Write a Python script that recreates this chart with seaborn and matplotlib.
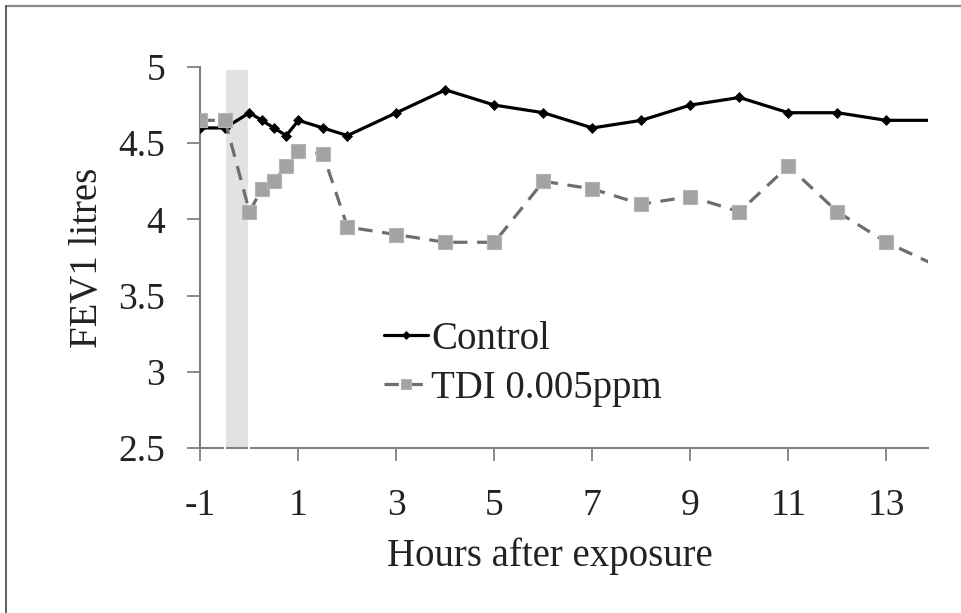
import matplotlib
matplotlib.use("Agg")
import matplotlib.pyplot as plt
from matplotlib.lines import Line2D
import seaborn as sns
import pandas as pd

hours = [-1, -0.5, 0, 0.25, 0.5, 0.75, 1, 1.5, 2, 3, 4, 5, 6, 7, 8, 9, 10, 11, 12, 13, 14]
control = [4.6, 4.6, 4.7, 4.65, 4.6, 4.55, 4.65, 4.6, 4.55, 4.7, 4.85, 4.75, 4.7, 4.6,
           4.65, 4.75, 4.8, 4.7, 4.7, 4.65, 4.65]
tdi = [4.65, 4.65, 4.05, 4.2, 4.25, 4.35, 4.45, 4.43, 3.95, 3.9, 3.85, 3.85, 4.25, 4.2,
       4.1, 4.15, 4.05, 4.35, 4.05, 3.85, 3.7]
series_names = ["Control", "TDI 0.005ppm"]
xticks = [-1, 1, 3, 5, 7, 9, 11, 13]
yticks = [2.5, 3, 3.5, 4, 4.5, 5]
ytick_labels = ["2.5", "3", "3.5", "4", "4.5", "5"]
exposure_start, exposure_end = -0.5, 0

sns.set_style("white")
FONT = ['Liberation Serif', 'DejaVu Serif']
plt.rcParams['font.family'] = 'serif'
plt.rcParams['font.serif'] = FONT

df = pd.DataFrame({"hours": hours, "control": control, "tdi": tdi})
shown = list(range(len(hours) - 1))  # last point lies beyond the visible axis

fig = plt.figure(figsize=(9.62, 6.13), dpi=100)
ax = fig.add_axes([200.5 / 962, 1 - 448 / 613, (928 - 200.5) / 962, (448 - 67) / 613])

# exposure band
ax.axvspan(exposure_start, exposure_end, ymin=0, ymax=(4.98 - 2.5) / 2.5,
           facecolor="#e2e2e2", edgecolor="none", zorder=1)
ax.vlines([exposure_start, exposure_end], 2.47, 4.98, colors="white", lw=1.6,
          zorder=2.6, clip_on=False)

sns.lineplot(data=df, x="hours", y="control", ax=ax, color="black", lw=2.3,
             marker="D", markersize=5.5, markerfacecolor="black",
             markeredgecolor="black", markeredgewidth=0.5, label=series_names[0],
             zorder=3, errorbar=None, markevery=shown)
sns.lineplot(data=df, x="hours", y="tdi", ax=ax, color="#6e6e6e", lw=2.3,
             linestyle="--", marker="s", markersize=10, markerfacecolor="#a3a3a3",
             markeredgecolor="#b5b5b5", markeredgewidth=0.8, label=series_names[1],
             zorder=3, errorbar=None, markevery=shown)
ax.lines[-1].set_dashes([4.5, 3])

ax.set_xlim(-1, 13.85)
ax.set_ylim(2.5, 5)
ax.set_xticks(xticks)
ax.set_xticklabels([str(t) for t in xticks], family=FONT, fontsize=27, color="#222222")
ax.set_yticks(yticks)
ax.set_yticklabels(ytick_labels, family=FONT, fontsize=27, color="#222222")

for side in ["top", "right"]:
    ax.spines[side].set_visible(False)
for side in ["left", "bottom"]:
    ax.spines[side].set_color("#808080")
    ax.spines[side].set_linewidth(1.5)

ax.tick_params(axis="both", direction="out", length=9.5, width=1.3, color="#808080")
ax.tick_params(axis="y", pad=16)
ax.tick_params(axis="x", pad=20)
ax.tick_params(left=True, bottom=True)

ax.set_xlabel("Hours after exposure", fontsize=28, color="#222222", family=FONT)
ax.set_ylabel("FEV1 litres", fontsize=28, color="#222222", family=FONT)
ax.xaxis.set_label_coords(0.48, -0.235)
ax.yaxis.set_label_coords(-0.13, 0.5)

leg = ax.legend(loc="upper left", bbox_to_anchor=((368 - 200.5) / 727.5, (448 - 305) / 381),
                frameon=False, handlelength=1.15, handletextpad=0.08,
                labelspacing=0.32, borderaxespad=0, markerscale=0.75,
                prop={"family": FONT, "size": 28})
for t in leg.get_texts():
    t.set_color("#222222")

# figure frame (top and left)
fig.add_artist(Line2D([6 / 962, 1], [1 - 6 / 613, 1 - 6 / 613], color="#8a8a8a", lw=1.6,
                      transform=fig.transFigure))
fig.add_artist(Line2D([6 / 962, 6 / 962], [0, 1 - 6 / 613], color="#444444", lw=1.2,
                      transform=fig.transFigure))

fig.savefig("out.png", dpi=100)
